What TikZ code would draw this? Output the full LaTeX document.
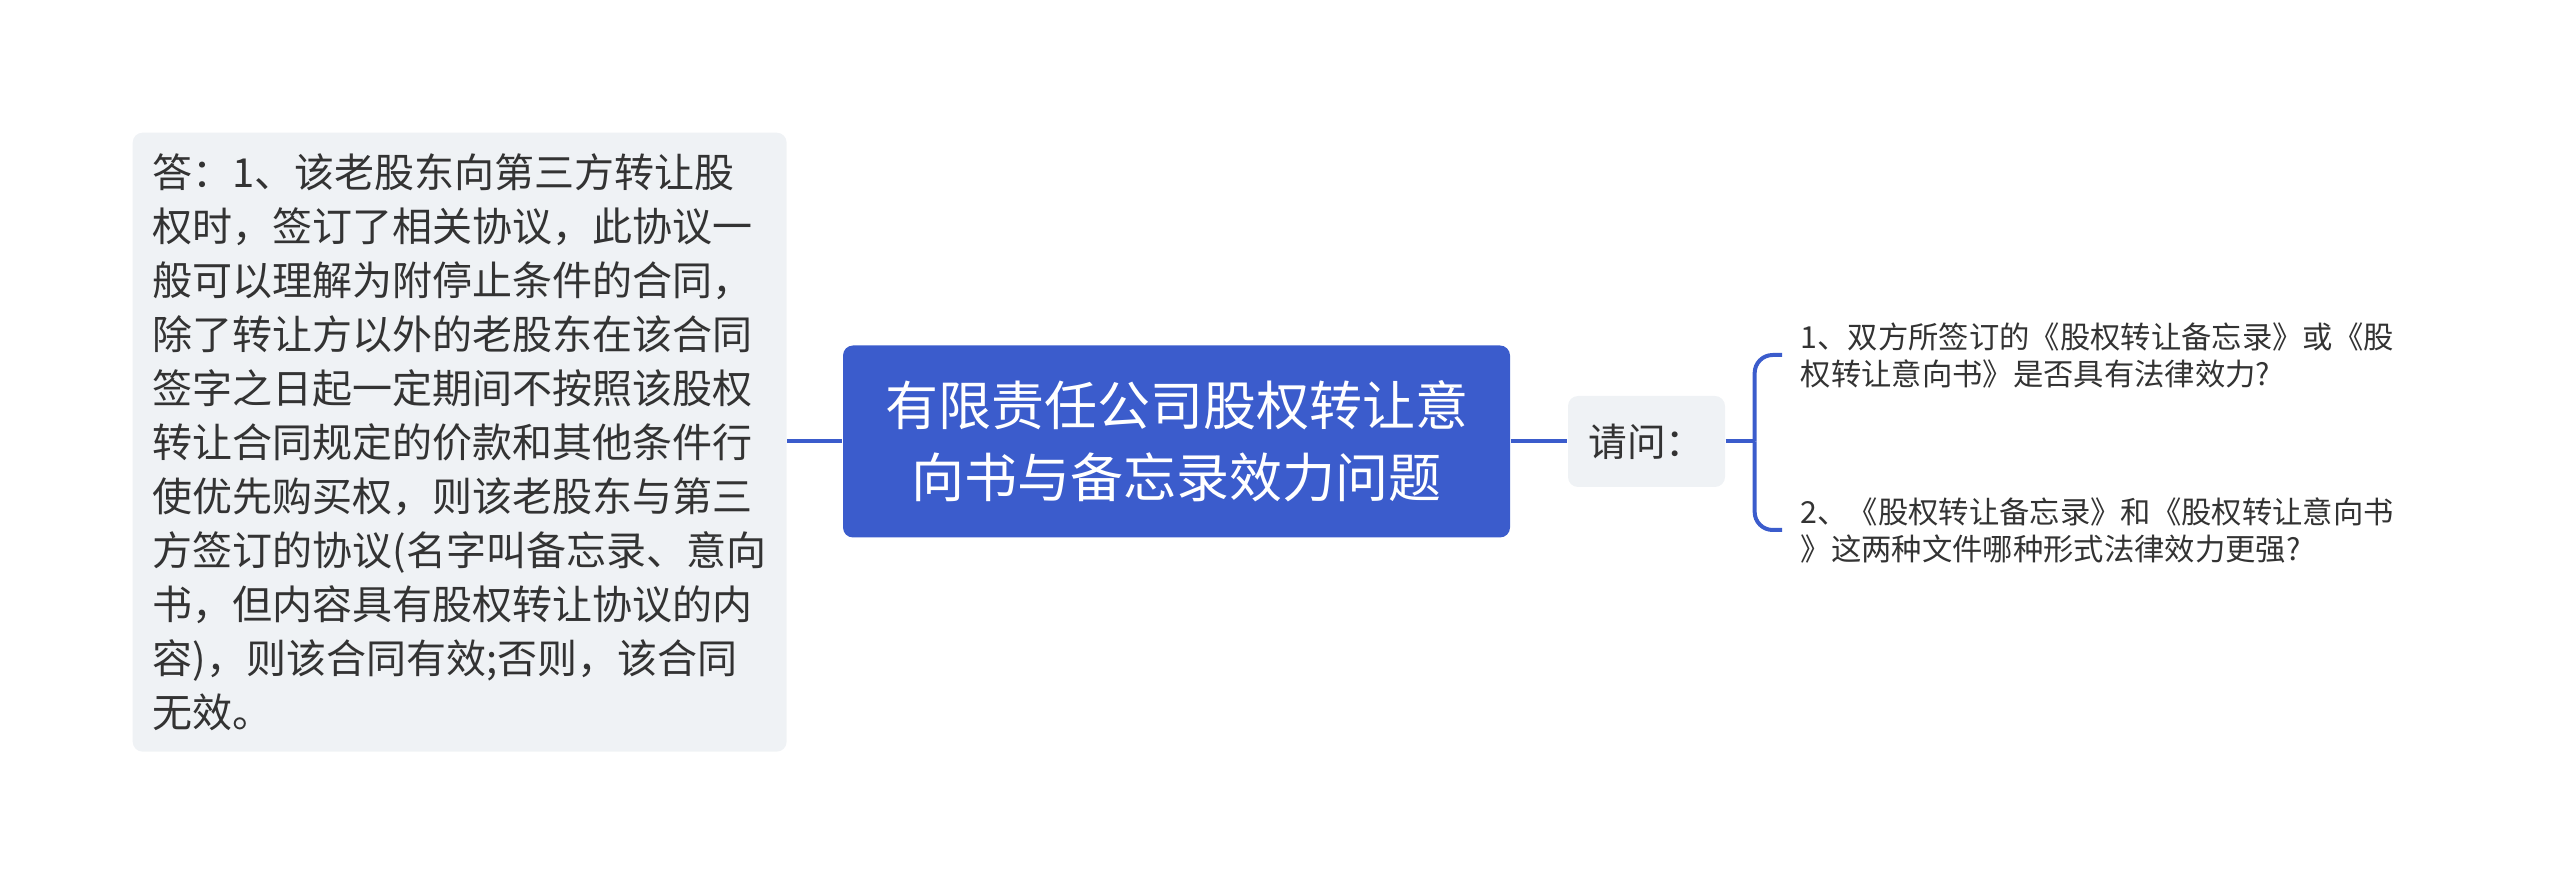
\documentclass[tikz,border=0pt]{standalone}
\usepackage{fontspec}
\usepackage{xcolor}
\usepackage{tikz}
\usetikzlibrary{positioning, calc}
\newfontfamily\cjk{Noto Sans CJK SC}
\definecolor{titleblue}{RGB}{59,92,204}
\definecolor{linkblue}{RGB}{59,92,204}
\definecolor{boxgray}{RGB}{239,242,245}
\definecolor{textgray}{RGB}{51,51,51}

\begin{document}
\begin{tikzpicture}[
    x=0.3pt, y=-0.3pt,
    every node/.style={font=\cjk, text=textgray},
    answerbox/.style={rectangle, fill=boxgray, rounded corners=3pt, anchor=north west,
        text width=184.2pt, minimum height=185.7pt, inner xsep=6pt, inner ysep=0pt,
        align=left, font=\cjk\fontsize{12pt}{16.2pt}\selectfont},
    titlebox/.style={rectangle, fill=titleblue, rounded corners=3pt, text=white,
        minimum width=200.1pt, minimum height=57.6pt, align=center,
        font=\cjk\fontsize{15.9pt}{21.6pt}\selectfont},
    askbox/.style={rectangle, fill=boxgray, rounded corners=3pt,
        minimum width=47.1pt, minimum height=27.3pt,
        font=\cjk\fontsize{11.6pt}{14pt}\selectfont},
    questiontext/.style={anchor=west, inner sep=0pt, align=left,
        font=\cjk\fontsize{9.1pt}{11.1pt}\selectfont},
    link/.style={draw=linkblue, line width=1.2pt}
]
    \useasboundingbox (0,0) rectangle (2560,883);

    % main topic and its two sides
    \node[titlebox] (title) at (1176.5,441.5) {有限责任公司股权转让意\\向书与备忘录效力问题};
    \node[answerbox] (answer) at (132,132) {答：1、该老股东向第三方转让股\\
        权时，签订了相关协议，此协议一\\
        般可以理解为附停止条件的合同，\\
        除了转让方以外的老股东在该合同\\
        签字之日起一定期间不按照该股权\\
        转让合同规定的价款和其他条件行\\
        使优先购买权，则该老股东与第三\\
        方签订的协议(名字叫备忘录、意向\\
        书，但内容具有股权转让协议的内\\
        容)，则该合同有效;否则，该合同\\
        无效。};
    \node[askbox] (ask) at (1646.5,441.5) {请问：};

    % the two questions
    \node[questiontext] (q1) at (1800,355) {1、双方所签订的《股权转让备忘录》或《股\\权转让意向书》是否具有法律效力?};
    \node[questiontext] (q2) at (1800,530) {2、《股权转让备忘录》和《股权转让意向书\\》这两种文件哪种形式法律效力更强?};

    \coordinate (fork) at ($(ask.east)+(29,0)$);

    \draw[link] (answer.east |- title.west) -- (title.west);
    \draw[link] (title.east) -- (ask.west);
    \draw[link] (ask.east) -- (fork);
    \draw[link, rounded corners=5.4pt] (fork) |- ([xshift=-5.4pt]q1.west);
    \draw[link, rounded corners=5.4pt] (fork) |- ([xshift=-5.4pt]q2.west);
\end{tikzpicture}
\end{document}
